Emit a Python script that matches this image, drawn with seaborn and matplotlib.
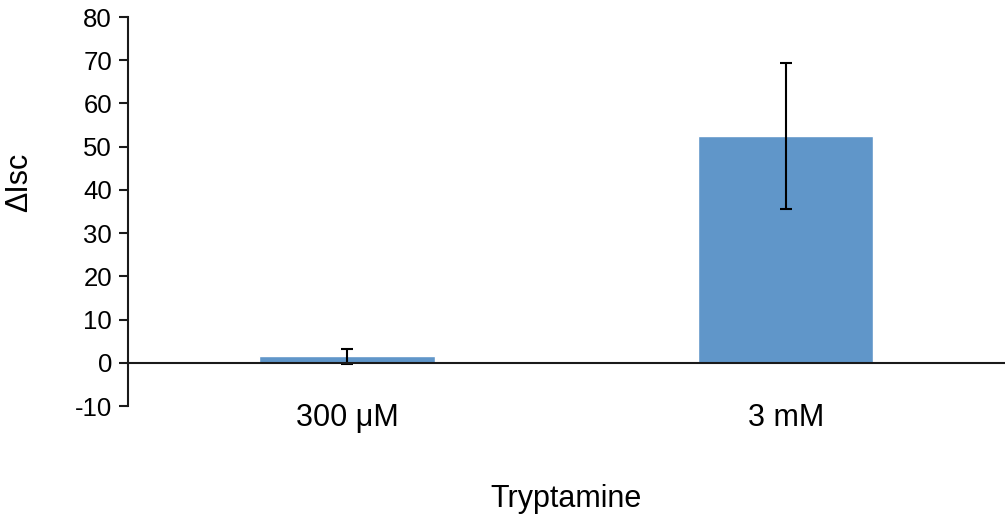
import pandas as pd
import matplotlib.pyplot as plt
import seaborn as sns

categories = ["300 \u03bcM", "3 mM"]
values = [1.5, 52.4]
errors = [1.75, 16.9]
yticks = [-10, 0, 10, 20, 30, 40, 50, 60, 70, 80]

df = pd.DataFrame({"conc": categories, "disc": values, "err": errors})

sns.set_style("white")
plt.rcParams["font.family"] = ["Liberation Sans", "DejaVu Sans"]
plt.rcParams["axes.unicode_minus"] = False
plt.rcParams["text.color"] = "black"
plt.rcParams["xtick.color"] = "black"
plt.rcParams["ytick.color"] = "black"
plt.rcParams["axes.labelcolor"] = "black"

fig = plt.figure(figsize=(10.07, 5.16), dpi=100)
ax = fig.add_axes([0.127, 0.213, 0.871, 0.754])

sns.barplot(x="conc", y="disc", data=df, color="#6096C9", saturation=1,
            width=0.4, errorbar=None, ax=ax)
ax.errorbar(x=range(len(df)), y=df["disc"], yerr=df["err"], fmt="none",
            ecolor="black", elinewidth=1.5, capsize=4.3, capthick=1.5)

ax.axhline(0, color="#1a1a1a", lw=1.5, zorder=5)
ax.set_ylim(-10, 80)
ax.set_xlim(-0.5, 1.5)
ax.set_yticks(yticks)

for s in ["top", "right", "bottom"]:
    ax.spines[s].set_visible(False)
ax.spines["left"].set_color("#1a1a1a")
ax.spines["left"].set_linewidth(1.5)

ax.tick_params(axis="y", left=True, length=6.5, width=1.5, color="#1a1a1a",
               labelsize=18.5, pad=5)
ax.tick_params(axis="x", bottom=False, labelsize=22, pad=-5.5)

ax.set_xlabel("Tryptamine", fontsize=22)
ax.xaxis.set_label_coords(0.5, -0.20)
ax.set_ylabel("")
fig.text(0.019, 0.647, "\u0394Isc", rotation=90, fontsize=22, va="center", ha="center")

fig.savefig("out.png", dpi=100)
